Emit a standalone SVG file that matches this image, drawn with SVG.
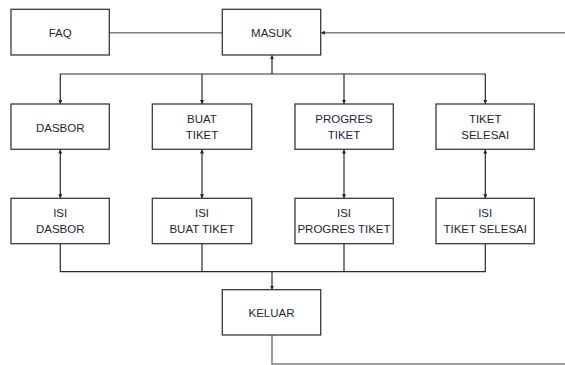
<svg xmlns="http://www.w3.org/2000/svg" width="565" height="365" viewBox="0 0 565 365">
<style>
.box{fill:#fff;stroke:#3a3a3a;stroke-width:1.3}
.t{font-family:"Liberation Sans",Arial,sans-serif;font-size:11.5px;fill:#1e2536;text-anchor:middle}
.c{fill:none;stroke:#2a2a2a;stroke-width:1.2}
.g{fill:none;stroke:#808080;stroke-width:1.6}
</style>
<defs>
<marker id="ah" viewBox="0 0 8 8" refX="8" refY="4" markerWidth="4" markerHeight="4" markerUnits="userSpaceOnUse" orient="auto-start-reverse">
<path d="M0,0 L8,4 L0,8 z" fill="#222"/>
</marker>
</defs>
<rect width="565" height="365" fill="#fff"/>
<g id="connectors">
<path class="g" d="M109.3,32.7 H222.3"/>
<path class="g" d="M272,335 V364 H566 V32.7 H321" marker-end="url(#ah)"/>
<path class="c" d="M272,74 V55.3" marker-end="url(#ah)"/>
<path class="c" d="M60.3,104 V74 H485.3 V104" marker-end="url(#ah)" marker-start="url(#ah)"/>
<path class="c" d="M202,74 V104" marker-end="url(#ah)"/>
<path class="c" d="M344,74 V104" marker-end="url(#ah)"/>
<path class="c" d="M60.3,149.5 V198.3" marker-start="url(#ah)" marker-end="url(#ah)"/>
<path class="c" d="M202,149.5 V198.3" marker-start="url(#ah)" marker-end="url(#ah)"/>
<path class="c" d="M344,149.5 V198.3" marker-start="url(#ah)" marker-end="url(#ah)"/>
<path class="c" d="M485.3,149.5 V198.3" marker-start="url(#ah)" marker-end="url(#ah)"/>
<path class="c" d="M60.3,243.7 V271.7 H485.3 V243.7"/>
<path class="c" d="M202,243.7 V271.7"/>
<path class="c" d="M344,243.7 V271.7"/>
<path class="c" d="M272,271.7 V289.7" marker-end="url(#ah)"/>
</g>
<g id="faq"><rect class="box" x="11" y="9.3" width="98.3" height="45.7"/><text class="t" x="60.2" y="37">FAQ</text></g>
<g id="masuk"><rect class="box" x="222.3" y="9.3" width="98.4" height="45.7"/><text class="t" x="271.5" y="37">MASUK</text></g>
<g id="dasbor"><rect class="box" x="11" y="104" width="98.3" height="45.3"/><text class="t" x="60.2" y="131.5">DASBOR</text></g>
<g id="buat-tiket"><rect class="box" x="152.3" y="104" width="99.4" height="45.3"/><text class="t" x="202" y="122.7">BUAT</text><text class="t" x="202" y="138.7">TIKET</text></g>
<g id="progres-tiket"><rect class="box" x="295" y="104" width="98.3" height="45.3"/><text class="t" x="344" y="122.7">PROGRES</text><text class="t" x="344" y="138.7">TIKET</text></g>
<g id="tiket-selesai"><rect class="box" x="436" y="104" width="98.3" height="45.3"/><text class="t" x="485.2" y="122.7">TIKET</text><text class="t" x="485.2" y="138.7">SELESAI</text></g>
<g id="isi-dasbor"><rect class="box" x="11" y="198.3" width="98.3" height="45.4"/><text class="t" x="60.2" y="217.3">ISI</text><text class="t" x="60.2" y="233.3">DASBOR</text></g>
<g id="isi-buat-tiket"><rect class="box" x="152.3" y="198.3" width="99.4" height="45.4"/><text class="t" x="202" y="217.3">ISI</text><text class="t" x="202" y="233.3">BUAT TIKET</text></g>
<g id="isi-progres-tiket"><rect class="box" x="295" y="198.3" width="98.3" height="45.4"/><text class="t" x="344" y="217.3">ISI</text><text class="t" x="344" y="233.3">PROGRES TIKET</text></g>
<g id="isi-tiket-selesai"><rect class="box" x="436" y="198.3" width="98.3" height="45.4"/><text class="t" x="485.2" y="217.3">ISI</text><text class="t" x="485.2" y="233.3">TIKET SELESAI</text></g>
<g id="keluar"><rect class="box" x="222.3" y="289.7" width="98.4" height="45.3"/><text class="t" x="271.5" y="316.7">KELUAR</text></g>
</svg>
